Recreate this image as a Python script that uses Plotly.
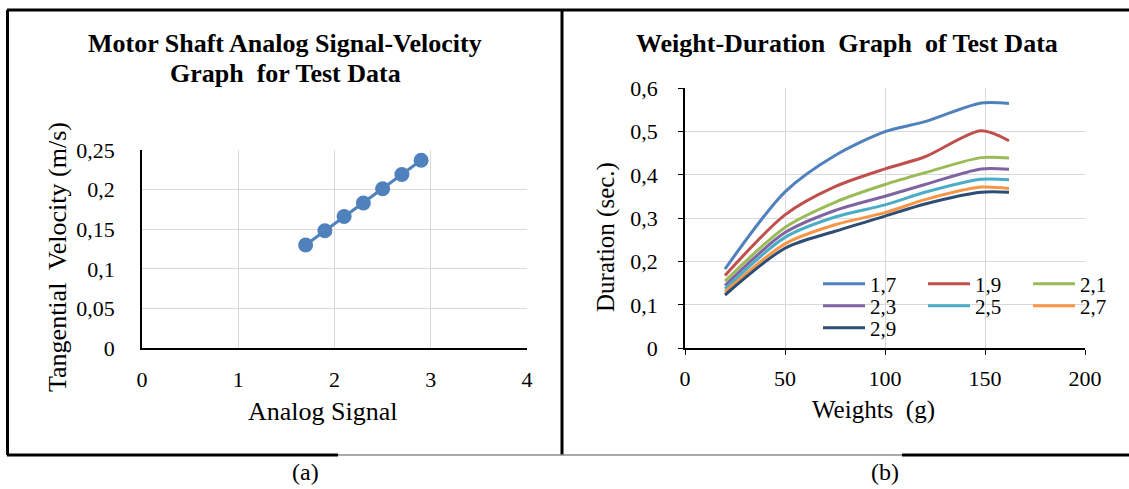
import plotly.graph_objects as go

W, H = 1129, 489

# ---- data: left chart ----
analog_signal = [1.7, 1.9, 2.1, 2.3, 2.5, 2.7, 2.9]
tangential_velocity = [0.130, 0.148, 0.166, 0.183, 0.201, 0.219, 0.237]

# ---- data: right chart ----
weights = [20, 50, 75, 100, 120, 148, 162]
series_names = ["1,7", "1,9", "2,1", "2,3", "2,5", "2,7", "2,9"]
dur_17 = [0.183, 0.361, 0.445, 0.500, 0.523, 0.566, 0.565]
dur_19 = [0.168, 0.308, 0.373, 0.414, 0.442, 0.502, 0.479]
dur_21 = [0.155, 0.279, 0.337, 0.378, 0.405, 0.440, 0.439]
dur_23 = [0.145, 0.267, 0.318, 0.351, 0.378, 0.414, 0.413]
dur_25 = [0.137, 0.256, 0.303, 0.331, 0.360, 0.390, 0.389]
dur_27 = [0.130, 0.241, 0.285, 0.313, 0.343, 0.372, 0.369]
dur_29 = [0.123, 0.231, 0.270, 0.305, 0.333, 0.360, 0.360]
durations = [dur_17, dur_19, dur_21, dur_23, dur_25, dur_27, dur_29]
colors = ["#4F81BD", "#C0504D", "#9BBB59", "#8064A2", "#4BACC6", "#F79646", "#2C4D75"]
legend_ids = ["legend", "legend", "legend", "legend2", "legend2", "legend2", "legend3"]

FONT = "Liberation Serif, Times New Roman, serif"
GRID = "#D9D9D9"


def px(x):
    return x / W


def py(y):
    return 1 - y / H


fig = go.Figure()

fig.add_trace(go.Scatter(
    x=analog_signal, y=tangential_velocity, mode="lines+markers",
    line=dict(color="#4F81BD", width=3), marker=dict(size=15, color="#4F81BD"),
    xaxis="x", yaxis="y", showlegend=False, hoverinfo="x+y"))

for name, vals, col, lg in zip(series_names, durations, colors, legend_ids):
    fig.add_trace(go.Scatter(
        x=weights, y=vals, mode="lines", name=name,
        line=dict(color=col, width=3, shape="spline", smoothing=0.8),
        xaxis="x2", yaxis="y2", legend=lg))

axis_common = dict(showgrid=True, gridcolor=GRID, gridwidth=1, zeroline=False,
                   showline=True, linecolor="#000000", linewidth=1.5,
                   tickfont=dict(family=FONT, size=22, color="#000"))

fig.update_layout(
    width=W, height=H,
    margin=dict(l=0, r=0, t=0, b=0, autoexpand=False),
    paper_bgcolor="white", plot_bgcolor="white",
    separators=",.",
    font=dict(family=FONT, color="#000"),
    xaxis=dict(domain=[px(142), px(527)], range=[0, 4], dtick=1, anchor="y",
               ticks="", ticklabelstandoff=11, **axis_common),
    yaxis=dict(domain=[py(348), py(150)], range=[0, 0.25], dtick=0.05, anchor="x",
               ticks="", ticklabelstandoff=21, tickformat="~r", **axis_common),
    xaxis2=dict(domain=[px(685), px(1085)], range=[0, 200], dtick=50, anchor="y2",
                ticks="outside", ticklen=5, tickcolor="#000", ticklabelstandoff=5,
                **axis_common),
    yaxis2=dict(domain=[py(348.3), py(88.3)], range=[0, 0.6], dtick=0.1, anchor="x2",
                ticks="outside", ticklen=5, tickcolor="#000", ticklabelstandoff=16,
                tickformat="~r", **axis_common),
)

leg_common = dict(orientation="h", xanchor="left", yanchor="middle",
                  entrywidth=48, entrywidthmode="pixels", bgcolor="rgba(0,0,0,0)",
                  font=dict(family=FONT, size=21, color="#000"), itemwidth=42,
                  tracegroupgap=0)
fig.update_layout(
    legend=dict(x=px(818), y=py(284), **leg_common),
    legend2=dict(x=px(818), y=py(306), **leg_common),
    legend3=dict(x=px(818), y=py(328), **leg_common),
)


def text(x, y, s, size, angle=0):
    fig.add_annotation(x=px(x), y=py(y), xref="paper", yref="paper", showarrow=False,
                       xanchor="center", yanchor="middle", text=s, textangle=angle,
                       font=dict(family=FONT, size=size, color="#000"), align="center")


# titles, axis titles and captions
text(285, 44, "<b>Motor Shaft Analog Signal-Velocity</b>", 26)
text(285, 73, "<b>Graph  for Test Data</b>", 26)
text(847, 44, "<b>Weight-Duration  Graph  of Test Data</b>", 26)
text(323, 411, "Analog Signal", 26)
text(57, 257, "Tangential  Velocity (m/s)", 26, -90)
text(873, 410, "Weights  (g)", 25)
text(606, 237, "Duration (sec.)", 25, -90)
text(305, 472, "(a)", 24)
text(885, 472, "(b)", 24)


# panel borders
def seg(x0, y0, x1, y1, color="#000", width=3):
    fig.add_shape(type="line", xref="paper", yref="paper",
                  x0=px(x0), y0=py(y0), x1=px(x1), y1=py(y1),
                  line=dict(color=color, width=width))


seg(7, 10, 1129, 10)
seg(7.5, 10, 7.5, 455)
seg(562, 10, 562, 455)
seg(7, 455, 338, 455)
seg(338, 455, 902, 455, color="#8C8C8C", width=1.5)
seg(902, 455, 1129, 455)

fig.write_html("out.html", config={"displayModeBar": False},
               post_script="document.body.style.margin='0';")
